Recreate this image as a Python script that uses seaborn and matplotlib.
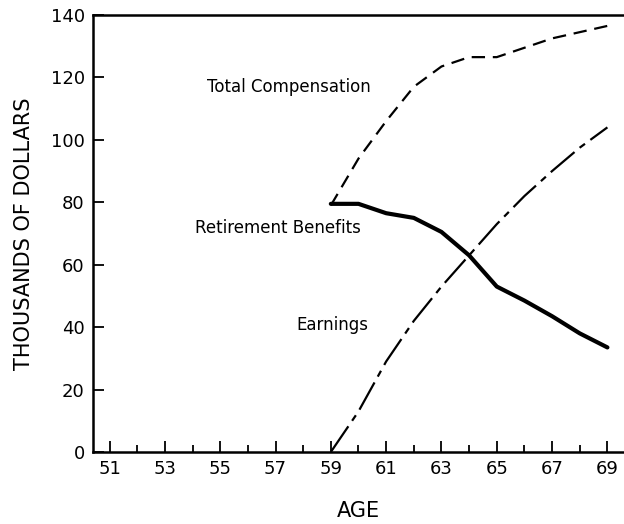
import numpy as np
import pandas as pd
import matplotlib
matplotlib.use("Agg")
import matplotlib.pyplot as plt
import seaborn as sns

# values (thousands of dollars)
ages = [59, 60, 61, 62, 63, 64, 65, 66, 67, 68, 69]
total_comp = [79, 94, 106, 117, 123.5, 126.5, 126.5, 129.5, 132.5, 134.5, 136.5]
benefits = [79.5, 79.5, 76.5, 75, 70.5, 63, 53, 48.5, 43.5, 38, 33.5]
earnings = [0, 13, 29, 42, 53, 63, 73, 82, 90, 97.5, 104]

labels = ["Total Compensation", "Retirement Benefits", "Earnings"]
xticks_major = list(range(51, 70, 2))
xticks_minor = list(range(52, 70, 2))
yticks = list(range(0, 141, 20))

df = pd.DataFrame({"age": ages, "Total Compensation": total_comp,
                   "Retirement Benefits": benefits, "Earnings": earnings})
long = df.melt(id_vars="age", var_name="series", value_name="value")

sns.set_style("ticks")
plt.rcParams["font.family"] = ["DejaVu Sans"]
plt.rcParams["text.color"] = "black"
plt.rcParams["axes.labelcolor"] = "black"
plt.rcParams["xtick.color"] = "black"
plt.rcParams["ytick.color"] = "black"
plt.rcParams["axes.edgecolor"] = "black"

fig = plt.figure(figsize=(6.24, 5.24), dpi=100)
ax = fig.add_axes([0.149, 0.1374, 0.851, 0.834])

styles = {
    "Total Compensation": dict(dashes=(6, 3.5), lw=1.6),
    "Retirement Benefits": dict(dashes=(), lw=3.0),
    "Earnings": dict(dashes=(14, 3, 3, 3), lw=1.6),
}
for name in labels:
    sub = long[long["series"] == name]
    st = styles[name]
    sns.lineplot(data=sub, x="age", y="value", ax=ax, color="black",
                 lw=st["lw"], legend=False)
    if st["dashes"]:
        ax.lines[-1].set_dashes(st["dashes"])

ax.set_xlim(50.4, 69.6)
ax.set_ylim(0, 140)
ax.set_xticks(xticks_major)
ax.set_xticks(xticks_minor, minor=True)
ax.set_yticks(yticks)
ax.tick_params(axis="both", direction="in", length=8, width=1.3, labelsize=13, pad=6)
ax.tick_params(axis="x", which="minor", direction="in", length=5, width=1.3)
ax.spines["right"].set_visible(False)
for s in ["left", "bottom", "top"]:
    ax.spines[s].set_linewidth(1.8)

ax.set_xlabel("AGE", fontsize=15, labelpad=16)
ax.set_ylabel("THOUSANDS OF DOLLARS", fontsize=15, labelpad=12)

ax.text(57.5, 117, "Total Compensation", fontsize=12, ha="center", va="center")
ax.text(57.1, 71.8, "Retirement Benefits", fontsize=12, ha="center", va="center")
ax.text(59.07, 40.7, "Earnings", fontsize=12, ha="center", va="center")

fig.savefig("out.png", dpi=100)
